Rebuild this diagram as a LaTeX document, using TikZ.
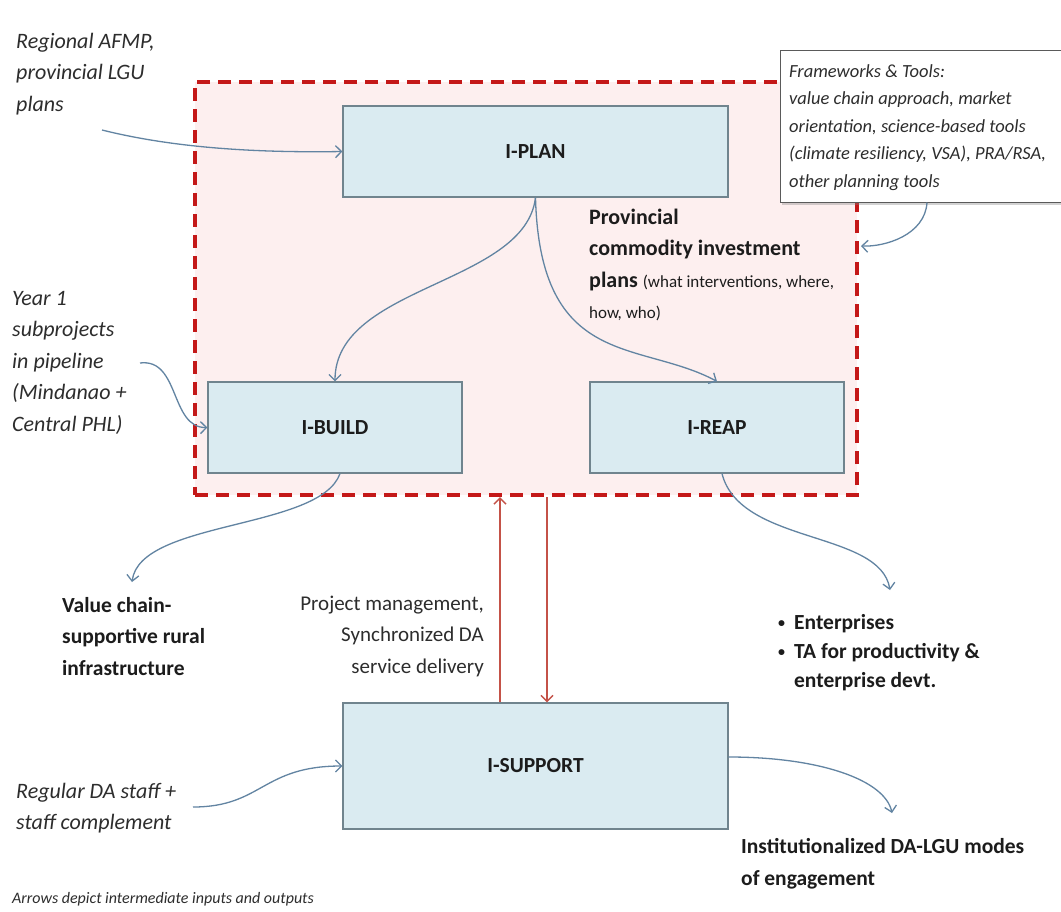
\documentclass[tikz,border=0pt]{standalone}
\usepackage{fontspec}
\setmainfont{Carlito}
\usetikzlibrary{arrows.meta,shadows}

\definecolor{stagefill}{RGB}{218,235,241}
\definecolor{stageline}{RGB}{112,132,142}
\definecolor{zoneline}{RGB}{196,24,24}
\definecolor{zonefill}{RGB}{253,239,239}
\definecolor{flowblue}{RGB}{98,132,162}
\definecolor{linkred}{RGB}{196,82,72}
\definecolor{ink}{RGB}{28,28,28}
\definecolor{softink}{RGB}{45,45,45}
\definecolor{toolsline}{RGB}{90,90,90}

% multi-line text whose reference point is the first baseline
\newcommand\leftlines[1]{\vtop{\halign{##\hfil\cr#1\crcr}}}
\newcommand\rightlines[1]{\vtop{\halign{\hfil##\cr#1\crcr}}}
\newcommand\bulletlines[1]{\vtop{\halign{##\hskip 9pt&##\hfil\cr#1\crcr}}}
\newcommand\smallbullet{{\fontsize{14}{14}\selectfont\raisebox{1.5pt}{\textbullet}}}

\begin{document}
\begin{tikzpicture}[x=1pt,y=-1pt,
  stage/.style={draw=stageline, line width=1.2pt, fill=stagefill, text=ink,
    font=\bfseries\fontsize{21.5}{26}\selectfont, inner sep=0pt},
  label/.style={anchor=base west, inner sep=0pt, text=softink},
  note/.style={label, font=\itshape\fontsize{22}{31.5}\selectfont},
  result/.style={label, text=ink, font=\bfseries\fontsize{21.5}{31.5}\selectfont},
  flow/.style={draw=flowblue, line width=1.3pt, -{Straight Barb[length=6pt,width=12pt]}},
  link/.style={draw=linkred, line width=1.5pt, -{Straight Barb[length=6pt,width=12pt]}}
]
\useasboundingbox (0,0) rectangle (1061,911);
\fill[white] (0,0) rectangle (1061,911);

% dashed planning zone
\node[draw=zoneline, fill=zonefill, line width=4pt, dash pattern=on 13pt off 8pt,
  minimum width=662pt, minimum height=413pt, inner sep=0pt] (zone) at (526,288.5) {};

% main stages
\node[stage, minimum width=385pt, minimum height=91pt] (plan) at (535.5,151.5) {I-PLAN};
\node[stage, minimum width=254pt, minimum height=91pt] (build) at (335,427.5) {I-BUILD};
\node[stage, minimum width=254pt, minimum height=91pt] (reap) at (717,427.5) {I-REAP};
\node[stage, minimum width=385pt, minimum height=126pt] (support) at (535.5,766) {I-SUPPORT};

% frameworks and tools box
\node[draw=toolsline, fill=white, line width=1pt, minimum width=284pt, minimum height=152pt,
  drop shadow={opacity=0.35, shadow xshift=2pt, shadow yshift=-3pt}] (tools) at (922,126) {};
\node[note, font=\itshape\fontsize{18.5}{27.5}\selectfont] (toolstext) at (789,77)
  {\leftlines{Frameworks \& Tools:\cr value chain approach, market\cr orientation, science-based tools\cr (climate resiliency, VSA), PRA/RSA,\cr other planning tools}};

% inputs
\node[note] (regional) at (16,48) {\leftlines{Regional AFMP,\cr provincial LGU\cr plans}};
\node[note] (year) at (12,305) {\leftlines{Year 1\cr subprojects\cr in pipeline\cr (Mindanao +\cr Central PHL)}};
\node[note] (staff) at (16,798) {\leftlines{Regular DA staff +\cr staff complement}};
\node[label, font=\itshape\fontsize{16}{19}\selectfont] (legend) at (12,903)
  {Arrows depict intermediate inputs and outputs};

% outputs
\node[result, font=\bfseries\fontsize{22}{31.5}\selectfont] (plans) at (589,224)
  {\leftlines{Provincial\cr commodity investment\cr plans {\mdseries\fontsize{17}{20}\selectfont (what interventions, where,}\cr {\mdseries\fontsize{17}{20}\selectfont how, who)}}};
\node[result] (infra) at (62,612) {\leftlines{Value chain-\cr supportive rural\cr infrastructure}};
\node[label, anchor=base east, font=\fontsize{21}{31.5}\selectfont] (pm) at (484,610)
  {\rightlines{Project management,\cr Synchronized DA\cr service delivery}};
\node[result, font=\bfseries\fontsize{21.5}{29}\selectfont] (ent) at (778,629)
  {\bulletlines{\smallbullet&Enterprises\cr \smallbullet&TA for productivity \&\cr &enterprise devt.}};
\node[result, font=\bfseries\fontsize{21.5}{32}\selectfont] (modes) at (741,853)
  {\leftlines{Institutionalized DA-LGU modes\cr of engagement}};

% free ends of the connectors
\coordinate (regTail) at (102,130);
\coordinate (yearTail) at (140,363);
\coordinate (staffTail) at (193,807);
\coordinate (infraTip) at (132,582);
\coordinate (entTip) at (890,590);
\coordinate (modesTip) at (892,813);
\coordinate (zoneIn) at (861,246);
\coordinate (upx) at (500,0);
\coordinate (dnx) at (547,0);

% inputs and outputs
\draw[flow] (regTail) .. controls (170,147) and (250,153) .. (plan.west);
\draw[flow] (yearTail) .. controls (180,358) and (170,428) .. (build.west);
\draw[flow] (staffTail) .. controls (262,807) and (262,766) .. (support.west);
\draw[flow] ([xshift=5pt]tools.south) .. controls (925,235) and (885,247) .. (zoneIn);
\draw[flow] (plan.south) .. controls (525,285) and (335,285) .. (build.north);
\draw[flow] (plan.south) .. controls (540,370) and (640,340) .. (reap.north);
\draw[flow] ([xshift=5pt]build.south) .. controls (320,530) and (140,520) .. (infraTip);
\draw[flow] ([xshift=5pt]reap.south) .. controls (740,545) and (880,530) .. (entTip);
\draw[flow] ([yshift=9pt]support.east) .. controls (820,757) and (885,780) .. (modesTip);

% support links
\draw[link] (support.north -| upx) -- (zone.south -| upx);
\draw[link] (zone.south -| dnx) -- (support.north -| dnx);
\end{tikzpicture}
\end{document}
